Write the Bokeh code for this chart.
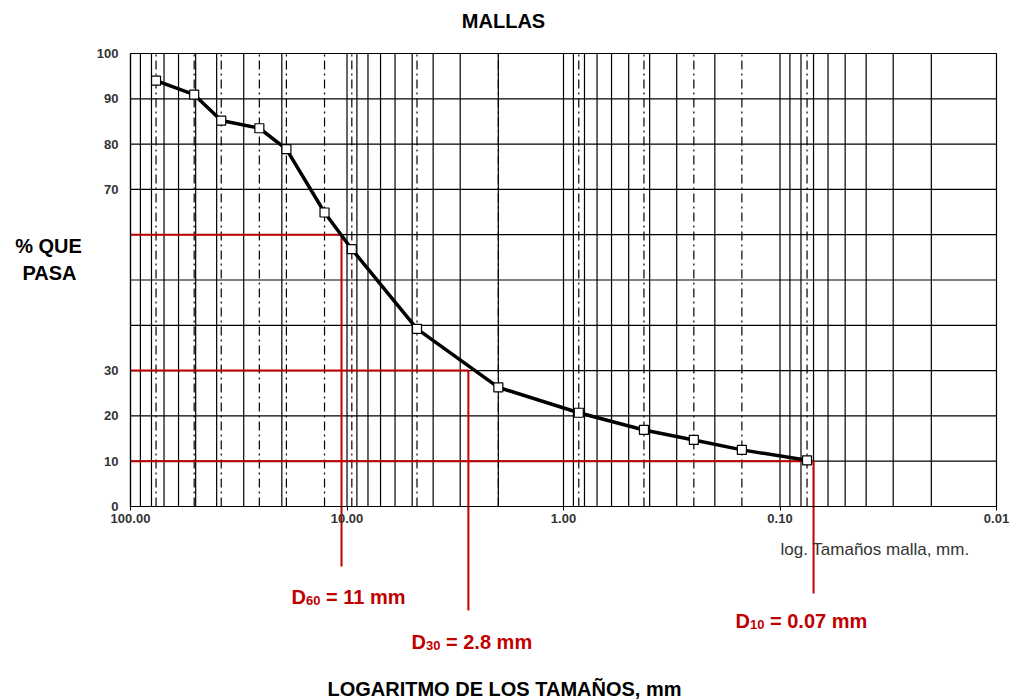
from bokeh.plotting import figure
from bokeh.models import (Range1d, LogAxis, LinearAxis, FixedTicker,
                          NumeralTickFormatter, Label)
from bokeh.embed import file_html
from bokeh.resources import INLINE

# ---------------- data ----------------
sieve_mm = [76.2, 50.8, 38.1, 25.4, 19.05, 12.7, 9.5, 4.75, 2.0, 0.85, 0.425, 0.25, 0.15, 0.075]
pct_passing = [94.0, 90.9, 85.2, 83.5, 78.9, 64.9, 56.8, 39.2, 26.3, 20.7, 16.9, 14.7, 12.5, 10.2]

d_sub = ["60", "30", "10"]
d_pct = [60, 30, 10]
d_size = [10.6, 2.75, 0.07]
d_rest = ["= 11 mm", "= 2.8 mm", "= 0.07 mm"]

x_ticks = [100, 10, 1, 0.1, 0.01]
y_ticks = list(range(0, 101, 10))
y_hidden = [40, 50, 60]

# ---------------- layout (pixels) ----------------
W, H = 1013, 700
X100_PX, X001_PX = 130, 996
Y0_PX, Y100_PX = 506, 53
DEC = (X001_PX - X100_PX) / 4.0
PPU = (Y0_PX - Y100_PX) / 100.0

x_start = 100 * 10 ** (X100_PX / DEC)
x_end = 0.01 / 10 ** ((W - X001_PX) / DEC)
y_top = 100 + Y100_PX / PPU
y_bot = -(H - Y0_PX) / PPU


def ypx(py):
    return (Y0_PX - py) / PPU


FONT = "Liberation Sans"
RED = "#C00000"

p = figure(width=W, height=H, x_axis_type="log",
           x_range=Range1d(x_start, x_end), y_range=Range1d(y_bot, y_top),
           x_axis_location=None, y_axis_location=None,
           toolbar_location=None, output_backend="svg", title=None)
p.min_border = 0
p.min_border_left = 0
p.min_border_right = 0
p.min_border_top = 0
p.min_border_bottom = 0
p.outline_line_color = None
p.background_fill_color = "white"
p.border_fill_color = "white"
p.xgrid.grid_line_color = None
p.ygrid.grid_line_color = None
p.xgrid.visible = False
p.ygrid.visible = False

# grid
vgrid = [m * 10.0 ** e for e in range(-2, 2) for m in range(1, 10)] + [100.0]
p.segment(x0=vgrid, y0=0, x1=vgrid, y1=100, line_color="black", line_width=1.2)
p.segment(x0=100, y0=y_ticks, x1=0.01, y1=y_ticks, line_color="black", line_width=1.2)

# sieve dash-dot lines
p.segment(x0=sieve_mm, y0=0, x1=sieve_mm, y1=100, line_color="black",
          line_width=1.2, line_dash="9 4 2 4")

# red D lines
d_end_px = [566, 610, 593]
p.segment(x0=100, y0=d_pct, x1=d_size, y1=d_pct, line_color=RED, line_width=2)
p.segment(x0=d_size, y0=d_pct, x1=d_size, y1=[ypx(v) for v in d_end_px],
          line_color=RED, line_width=2)

# curve
p.line(sieve_mm, pct_passing, line_color="black", line_width=3.5,
       line_join="round", line_cap="round")
p.scatter(sieve_mm, pct_passing, marker="square", size=9, fill_color="white",
          line_color="black", line_width=1.2)

# axes
xaxis = LogAxis(fixed_location=0, bounds=(0.01, 100),
                ticker=FixedTicker(ticks=x_ticks),
                formatter=NumeralTickFormatter(format="0.00"))
xaxis.major_tick_out = 4
xaxis.major_tick_in = 0
xaxis.minor_tick_out = 0
xaxis.minor_tick_in = 0
xaxis.axis_line_color = "black"
xaxis.axis_line_width = 1.2
xaxis.major_tick_line_color = "black"
xaxis.major_label_standoff = 3
xaxis.major_label_text_font = FONT
xaxis.major_label_text_font_size = "13px"
xaxis.major_label_text_font_style = "bold"
xaxis.major_label_text_color = "#333333"
p.add_layout(xaxis, "below")

yaxis = LinearAxis(fixed_location=100, bounds=(0, 100),
                   ticker=FixedTicker(ticks=y_ticks),
                   major_label_overrides={v: "" for v in y_hidden})
yaxis.major_tick_out = 0
yaxis.major_tick_in = 0
yaxis.minor_tick_out = 0
yaxis.minor_tick_in = 0
yaxis.axis_line_color = "black"
yaxis.axis_line_width = 1.2
yaxis.major_label_standoff = 12
yaxis.major_label_text_font = FONT
yaxis.major_label_text_font_size = "13px"
yaxis.major_label_text_font_style = "bold"
yaxis.major_label_text_color = "#333333"
p.add_layout(yaxis, "left")


def lab(x, py, text, size, style="bold", color="black", align="left", baseline="middle"):
    p.add_layout(Label(x=x, y=ypx(py), x_units="screen", y_units="data", text=text,
                       text_font=FONT, text_font_size=size, text_font_style=style,
                       text_color=color, text_align=align, text_baseline=baseline))


lab(503, 20, "MALLAS", "20px", align="center")
lab(48, 245, "% QUE", "20px", align="center")
lab(49, 272, "PASA", "20px", align="center")
lab(780, 549, "log. Tamaños malla, mm.", "17px", style="normal", color="#333333")
lab(504, 688, "LOGARITMO DE LOS TAMAÑOS, mm", "20px", align="center")

d_left = [291, 411, 735]
d_base = [596, 641, 620]
for L, B, sub, rest in zip(d_left, d_base, d_sub, d_rest):
    lab(L, B, "D", "20px", color=RED, baseline="alphabetic")
    lab(L + 14.5, B + 4, sub, "13px", color=RED, baseline="alphabetic")
    lab(L + 14.5 + 14.5 + 5.5, B, rest, "20px", color=RED, baseline="alphabetic")

open("out.html", "w").write(file_html(p, INLINE))
